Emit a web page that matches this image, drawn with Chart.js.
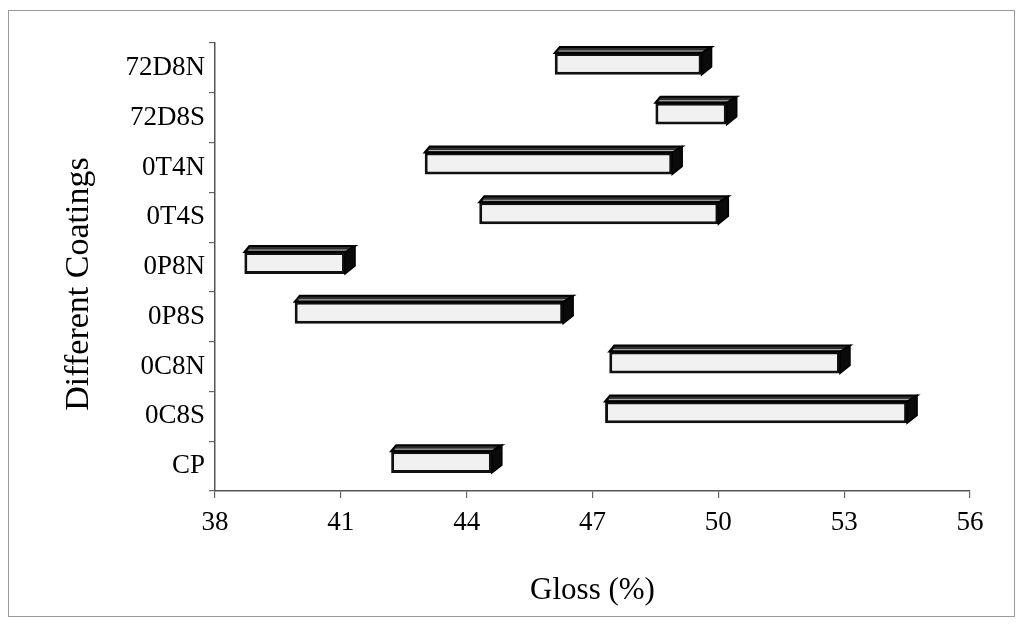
<!DOCTYPE html>
<html>
<head>
<meta charset="utf-8">
<script src="https://cdn.jsdelivr.net/npm/chart.js@4/dist/chart.umd.min.js"></script>
<style>
  body { margin: 0; background: #fff; }
  #frame {
    position: absolute; left: 8px; top: 10px;
    width: 1007px; height: 607px;
    box-sizing: border-box;
    border: 1px solid #9a9a9a;
  }
</style>
</head>
<body>
<div id="frame"><canvas id="glossChart"></canvas></div>
<script>
const coatings = ['72D8N', '72D8S', '0T4N', '0T4S', '0P8N', '0P8S', '0C8N', '0C8S', 'CP'];
const glossMin = [46.1, 48.5, 43.0, 44.3, 38.7, 39.9, 47.4, 47.3, 42.2];
const glossMax = [49.6, 50.2, 48.9, 50.0, 41.1, 46.3, 52.9, 54.5, 44.6];
const glossTicks = [38, 41, 44, 47, 50, 53, 56];

const serif = 'Liberation Serif';

// floating bars drawn as boxes: front face by Chart.js, top + side faces here
const box3d = {
  id: 'box3d',
  beforeDatasetsDraw(chart) {
    chart.ctx.save();
    chart.ctx.translate(0, -4);
  },
  afterDatasetsDraw(chart) {
    const ctx = chart.ctx;
    const dx = 10, dxLeft = 5, dy = 6;
    chart.getDatasetMeta(0).data.forEach(bar => {
      const { x, base, y, height } = bar.getProps(['x', 'base', 'y', 'height'], true);
      const L = Math.min(x, base), R = Math.max(x, base);
      const T = y - height / 2, B = y + height / 2;

      // top face
      ctx.beginPath();
      ctx.moveTo(L, T);
      ctx.lineTo(L + dxLeft, T - dy);
      ctx.lineTo(R + dx, T - dy);
      ctx.lineTo(R, T);
      ctx.closePath();
      ctx.fillStyle = '#2e2e2e';
      ctx.fill();
      ctx.lineWidth = 2;
      ctx.strokeStyle = '#000';
      ctx.stroke();
      ctx.beginPath();
      ctx.moveTo(L + 4, T - 2);
      ctx.lineTo(R + 2, T - 2);
      ctx.lineWidth = 1;
      ctx.strokeStyle = '#b5b5b5';
      ctx.stroke();

      // right face
      ctx.beginPath();
      ctx.moveTo(R, T);
      ctx.lineTo(R + dx, T - dy);
      ctx.lineTo(R + dx, B - dy - 2);
      ctx.lineTo(R, B);
      ctx.closePath();
      ctx.fillStyle = '#0a0a0a';
      ctx.fill();
      ctx.lineWidth = 1.5;
      ctx.strokeStyle = '#000';
      ctx.stroke();
    });
    ctx.restore();
  }
};

const ctx = document.getElementById('glossChart').getContext('2d');
new Chart(ctx, {
  type: 'bar',
  data: {
    labels: coatings,
    datasets: [{
      data: coatings.map((c, i) => [glossMin[i], glossMax[i]]),
      backgroundColor: '#f1f1f1',
      borderColor: '#111',
      borderWidth: 3,
      borderSkipped: false,
      categoryPercentage: 1,
      barPercentage: 0.44
    }]
  },
  options: {
    indexAxis: 'y',
    responsive: true,
    maintainAspectRatio: false,
    animation: false,
    layout: { padding: { top: 32, right: 44, bottom: 0, left: 0 } },
    plugins: { legend: { display: false }, tooltip: { enabled: false } },
    scales: {
      x: {
        min: 38,
        max: 56,
        afterBuildTicks: s => { s.ticks = glossTicks.map(v => ({ value: v })); },
        afterFit: s => { s.height = 125; },
        grid: { drawOnChartArea: false, tickLength: 7, color: '#666', lineWidth: 1.2 },
        border: { color: '#555', width: 1.5 },
        ticks: { color: '#000', padding: 9, font: { family: serif, size: 27 } },
        title: {
          display: true,
          text: 'Gloss (%)',
          color: '#000',
          font: { family: serif, size: 31 },
          padding: { top: 0, bottom: 7 }
        }
      },
      y: {
        afterFit: s => { s.width = 206; },
        grid: { drawOnChartArea: false, tickLength: 6, color: '#666', lineWidth: 1.2 },
        border: { color: '#555', width: 1.5 },
        ticks: { color: '#000', padding: 4, font: { family: serif, size: 27 } },
        title: {
          display: true,
          text: 'Different Coatings    ',
          color: '#000',
          font: { family: serif, size: 34 },
          padding: { top: 50, bottom: 0 }
        }
      }
    }
  },
  plugins: [box3d]
});
</script>
</body>
</html>
